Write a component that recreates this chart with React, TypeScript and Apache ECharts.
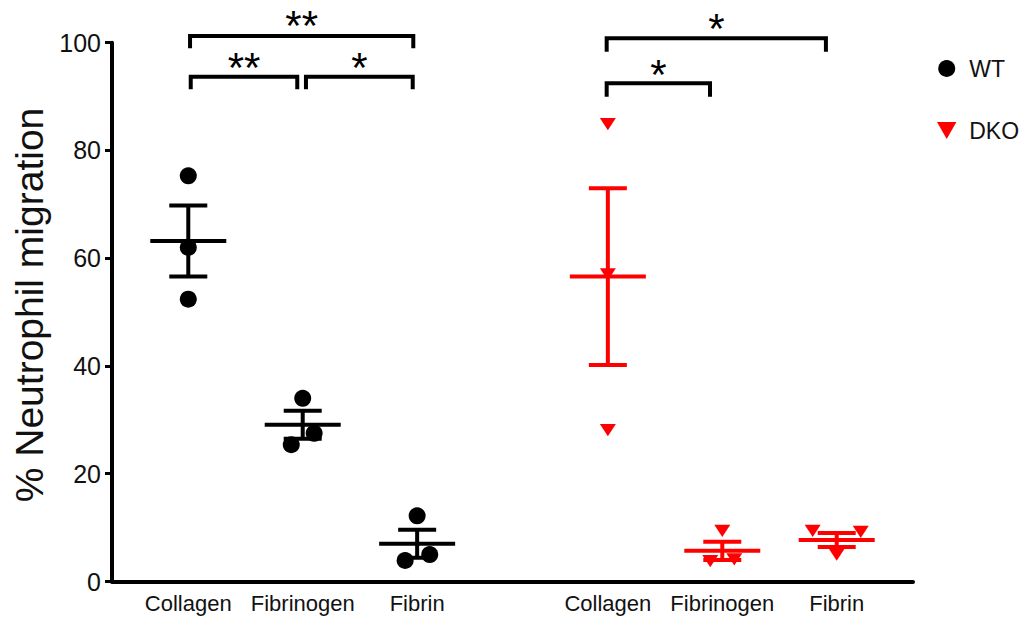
import React, { useEffect, useRef } from "react";
import * as echarts from "echarts";

// ---- data ----
const categories = ["Collagen", "Fibrinogen", "Fibrin"];
const groups = ["WT", "DKO"];
const yTicks = [0, 20, 40, 60, 80, 100];

const wtPoints = [
  [75.3, 62.0, 52.4],
  [34.0, 25.4, 27.5],
  [12.2, 3.9, 5.0],
];
const wtJitter = [
  [0, 0, 0],
  [0, -0.1, 0.1],
  [0, -0.105, 0.11],
];
const wtMean = [63.2, 29.1, 7.0];
const wtSem = [6.6, 2.6, 2.6];

const dkoPoints = [
  [84.9, 57.0, 28.1],
  [9.4, 3.8, 4.1],
  [9.4, 9.2, 5.0],
];
const dkoJitter = [
  [0, 0, 0],
  [0, -0.105, 0.105],
  [-0.21, 0.21, 0],
];
const dkoMean = [56.6, 5.7, 7.7];
const dkoSem = [16.4, 1.7, 1.3];

// significance brackets: [x1, x2, lineY, legY, labelY], label
const bracketSpans = [
  [0.682, 2.633, 101.24, 98.96, 103.1],
  [0.688, 1.619, 93.69, 91.35, 95.4],
  [1.695, 2.628, 93.69, 91.35, 95.4],
  [4.323, 6.239, 100.82, 98.33, 102.6],
  [4.323, 5.226, 92.46, 89.98, 94.1],
];
const bracketLabels = ["**", "**", "*", "*", "*"];

const FONT = "'Liberation Sans', Arial, Helvetica, sans-serif";
const RED = "#ff0000";
const TRI = "path://M0,0L16,0L8,14Z";

const slot = (g: number, i: number) => (2 + 3 * i + 11 * g) / 3;
const slots = groups.flatMap((_, g) => categories.map((__, i) => slot(g, i)));

function errorRender(color: string) {
  return (params: any, api: any) => {
    const x = api.value(0);
    const m = api.value(1);
    const s = api.value(2);
    const c = api.coord([x, m]);
    const t = api.coord([x, m + s]);
    const b = api.coord([x, m - s]);
    const st = { stroke: color, lineWidth: 4 };
    return {
      type: "group",
      children: [
        { type: "line", shape: { x1: c[0], y1: t[1], x2: c[0], y2: b[1] }, style: st },
        { type: "line", shape: { x1: c[0] - 38, y1: c[1], x2: c[0] + 38, y2: c[1] }, style: st },
        { type: "line", shape: { x1: c[0] - 19, y1: t[1], x2: c[0] + 19, y2: t[1] }, style: st },
        { type: "line", shape: { x1: c[0] - 19, y1: b[1], x2: c[0] + 19, y2: b[1] }, style: st },
      ],
    };
  };
}

export default function App() {
  const ref = useRef<HTMLDivElement>(null);
  useEffect(() => {
    if (!ref.current) return;
    const chart = echarts.init(ref.current, null, { renderer: "svg" });

    const wtData = wtPoints.flatMap((arr, i) => arr.map((v, k) => [slot(0, i) + wtJitter[i][k], v]));
    const dkoData = dkoPoints.flatMap((arr, i) => arr.map((v, k) => [slot(1, i) + dkoJitter[i][k], v]));

    const option: any = {
      animation: false,
      backgroundColor: "#fff",
      grid: { left: 112, right: 118, top: 42.7, bottom: 38.5, containLabel: false },
      xAxis: {
        type: "value",
        min: 0,
        max: 7,
        splitLine: { show: false },
        axisLine: { show: true, lineStyle: { color: "#000", width: 4 } },
        axisTick: { show: false },
        axisLabel: {
          customValues: slots,
          color: "#111",
          fontSize: 22,
          fontFamily: FONT,
          margin: 11,
          formatter: (v: number) => {
            let best = 0;
            slots.forEach((s, idx) => {
              if (Math.abs(s - v) < Math.abs(slots[best] - v)) best = idx;
            });
            return categories[best % categories.length];
          },
        },
      },
      yAxis: {
        type: "value",
        min: yTicks[0],
        max: yTicks[yTicks.length - 1],
        interval: 20,
        splitLine: { show: false },
        axisLine: { show: true, lineStyle: { color: "#000", width: 4 } },
        axisTick: { show: true, length: 7, lineStyle: { color: "#000", width: 3 } },
        axisLabel: { color: "#111", fontSize: 25, fontFamily: FONT, margin: 11 },
      },
      legend: {
        orient: "vertical",
        left: 932,
        top: 52,
        itemWidth: 35,
        itemHeight: 17,
        itemGap: 39,
        symbolKeepAspect: true,
        itemStyle: { opacity: 1 },
        textStyle: { color: "#111", fontSize: 23, fontFamily: FONT, lineHeight: 17 },
        data: [
          { name: groups[0], icon: "circle" },
          { name: groups[1], icon: TRI },
        ],
      },
      graphic: [
        {
          type: "text",
          x: 29,
          y: 305,
          rotation: Math.PI / 2,
          style: {
            text: "% Neutrophil migration",
            fill: "#111",
            fontSize: 39,
            fontFamily: FONT,
            align: "center",
            verticalAlign: "middle",
          },
        },
      ],
      series: [
        {
          name: groups[0],
          type: "scatter",
          data: wtData,
          symbol: "circle",
          symbolSize: 17,
          itemStyle: { color: "#000", opacity: 1 },
          z: 2,
        },
        {
          name: groups[1],
          type: "scatter",
          data: dkoData,
          symbol: TRI,
          symbolSize: [16, 14],
          symbolKeepAspect: true,
          itemStyle: { color: RED, opacity: 1 },
          z: 2,
        },
        {
          type: "custom",
          name: "wtErr",
          data: wtMean.map((m, i) => [slot(0, i), m, wtSem[i]]),
          encode: { x: 0, y: 1 },
          renderItem: errorRender("#000"),
          z: 3,
        },
        {
          type: "custom",
          name: "dkoErr",
          data: dkoMean.map((m, i) => [slot(1, i), m, dkoSem[i]]),
          encode: { x: 0, y: 1 },
          renderItem: errorRender(RED),
          z: 3,
        },
        {
          type: "custom",
          name: "brackets",
          clip: false,
          data: bracketSpans,
          encode: { x: [0, 1], y: [2, 3, 4] },
          renderItem: (params: any, api: any) => {
            const x1 = api.value(0);
            const x2 = api.value(1);
            const y = api.value(2);
            const leg = api.value(3);
            const ly = api.value(4);
            const a = api.coord([x1, y]);
            const b = api.coord([x2, y]);
            const l = api.coord([x1, leg]);
            const lab = api.coord([(x1 + x2) / 2, ly]);
            return {
              type: "group",
              children: [
                {
                  type: "polyline",
                  shape: { points: [[a[0], l[1]], [a[0], a[1]], [b[0], b[1]], [b[0], l[1]]] },
                  style: { stroke: "#000", lineWidth: 4, fill: null, lineJoin: "miter" },
                },
                {
                  type: "text",
                  x: lab[0],
                  y: lab[1],
                  style: {
                    text: bracketLabels[params.dataIndex],
                    fill: "#000",
                    fontSize: 42,
                    fontFamily: FONT,
                    align: "center",
                    verticalAlign: "middle",
                  },
                },
              ],
            };
          },
          z: 4,
        },
      ],
    };
    chart.setOption(option);
    return () => chart.dispose();
  }, []);
  return (
    <div
      ref={ref}
      style={{ position: "absolute", left: 0, top: 0, width: 1031, height: 620 }}
    />
  );
}
